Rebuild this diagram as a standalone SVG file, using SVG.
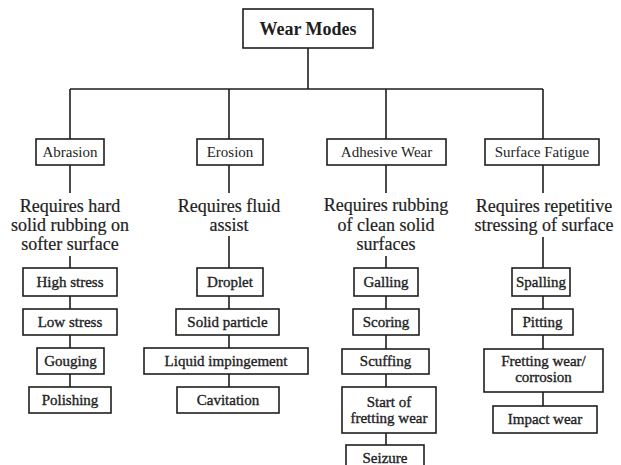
<svg xmlns="http://www.w3.org/2000/svg" width="621" height="465" viewBox="0 0 621 465">
  <style>
    .box { fill: #fff; stroke: #1e1e1e; stroke-width: 1.6; }
    .wire { fill: none; stroke: #1e1e1e; stroke-width: 1.6; }
    text { font-family: "Liberation Serif", "Times New Roman", serif; fill: #1e1e1e; text-anchor: middle; }
    .root { font-size: 18px; font-weight: bold; }
    .mode { font-size: 15px; }
    .desc { font-size: 18px; stroke: #1e1e1e; stroke-width: 0.2; }
    .leaf { font-size: 15px; stroke: #1e1e1e; stroke-width: 0.35; }
  </style>
  <rect width="621" height="465" fill="#fff"/>

  <!-- connectors -->
  <g id="connectors" class="wire">
    <path d="M308 48 V89 M70 89 H543 M70 89 V139 M229 89 V139 M386 89 V139 M543 89 V139"/>
    <!-- Abrasion column -->
    <path d="M70 165 V193 M70 256 V268 M70 296 V309 M70 335 V348 M70 374 V387"/>
    <!-- Erosion column -->
    <path d="M229 165 V193 M229 236 V268 M229 296 V309 M229 335 V348 M229 374 V387"/>
    <!-- Adhesive wear column -->
    <path d="M386 165 V193 M386 256 V268 M386 296 V309 M386 335 V349 M386 374 V387 M386 433 V445"/>
    <!-- Surface fatigue column -->
    <path d="M543 165 V193 M543 237 V268 M543 296 V309 M543 335 V349 M543 392 V406"/>
  </g>

  <g id="wear-modes">
    <rect class="box" x="243" y="9" width="130" height="39"/>
    <text class="root" x="308" y="35">Wear Modes</text>
  </g>

  <!-- Abrasion -->
  <g id="abrasion">
    <rect class="box" x="36" y="139" width="68" height="26"/>
    <text class="mode" x="70" y="157">Abrasion</text>
  </g>
  <g id="abrasion-req">
    <text class="desc" x="70" y="212">Requires hard<tspan x="70" dy="19">solid rubbing on</tspan><tspan x="70" dy="19">softer surface</tspan></text>
  </g>
  <g id="high-stress">
    <rect class="box" x="23" y="268" width="94" height="28"/>
    <text class="leaf" x="70" y="287">High stress</text>
  </g>
  <g id="low-stress">
    <rect class="box" x="23" y="309" width="94" height="26"/>
    <text class="leaf" x="70" y="327">Low stress</text>
  </g>
  <g id="gouging">
    <rect class="box" x="37" y="348" width="67" height="26"/>
    <text class="leaf" x="70.5" y="366">Gouging</text>
  </g>
  <g id="polishing">
    <rect class="box" x="29" y="387" width="82" height="26"/>
    <text class="leaf" x="70" y="405">Polishing</text>
  </g>

  <!-- Erosion -->
  <g id="erosion">
    <rect class="box" x="197" y="139" width="66" height="26"/>
    <text class="mode" x="230" y="157">Erosion</text>
  </g>
  <g id="erosion-req">
    <text class="desc" x="229" y="212">Requires fluid<tspan x="229" dy="19">assist</tspan></text>
  </g>
  <g id="droplet">
    <rect class="box" x="197" y="268" width="66" height="28"/>
    <text class="leaf" x="230" y="287">Droplet</text>
  </g>
  <g id="solid-particle">
    <rect class="box" x="176" y="309" width="103" height="26"/>
    <text class="leaf" x="227.5" y="327">Solid particle</text>
  </g>
  <g id="liquid-impingement">
    <rect class="box" x="144" y="348" width="164" height="26"/>
    <text class="leaf" x="226" y="366">Liquid impingement</text>
  </g>
  <g id="cavitation">
    <rect class="box" x="177" y="387" width="102" height="26"/>
    <text class="leaf" x="228" y="405">Cavitation</text>
  </g>

  <!-- Adhesive wear -->
  <g id="adhesive-wear">
    <rect class="box" x="327" y="139" width="119" height="26"/>
    <text class="mode" x="386.5" y="157">Adhesive Wear</text>
  </g>
  <g id="adhesive-req">
    <text class="desc" x="386" y="211">Requires rubbing<tspan x="386" dy="19.5">of clean solid</tspan><tspan x="386" dy="19.5">surfaces</tspan></text>
  </g>
  <g id="galling">
    <rect class="box" x="354" y="268" width="64" height="28"/>
    <text class="leaf" x="386" y="287">Galling</text>
  </g>
  <g id="scoring">
    <rect class="box" x="353" y="309" width="66" height="26"/>
    <text class="leaf" x="386" y="327">Scoring</text>
  </g>
  <g id="scuffing">
    <rect class="box" x="342" y="349" width="87" height="25"/>
    <text class="leaf" x="385.5" y="366">Scuffing</text>
  </g>
  <g id="start-of-fretting-wear">
    <rect class="box" x="342" y="387" width="94" height="46"/>
    <text class="leaf" x="389" y="407">Start of<tspan x="389" dy="16">fretting wear</tspan></text>
  </g>
  <g id="seizure">
    <rect class="box" x="346" y="445" width="78" height="28"/>
    <text class="leaf" x="385" y="463">Seizure</text>
  </g>

  <!-- Surface fatigue -->
  <g id="surface-fatigue">
    <rect class="box" x="485" y="139" width="114" height="26"/>
    <text class="mode" x="542" y="157">Surface Fatigue</text>
  </g>
  <g id="surface-fatigue-req">
    <text class="desc" x="544" y="212">Requires repetitive<tspan x="544" dy="19">stressing of surface</tspan></text>
  </g>
  <g id="spalling">
    <rect class="box" x="512" y="268" width="58" height="28"/>
    <text class="leaf" x="541" y="287">Spalling</text>
  </g>
  <g id="pitting">
    <rect class="box" x="512" y="309" width="61" height="26"/>
    <text class="leaf" x="542.5" y="327">Pitting</text>
  </g>
  <g id="fretting-corrosion">
    <rect class="box" x="484" y="349" width="119" height="43"/>
    <text class="leaf" x="543.5" y="366">Fretting wear/<tspan x="543.5" dy="16">corrosion</tspan></text>
  </g>
  <g id="impact-wear">
    <rect class="box" x="493" y="406" width="104" height="27"/>
    <text class="leaf" x="545" y="424">Impact wear</text>
  </g>
</svg>
